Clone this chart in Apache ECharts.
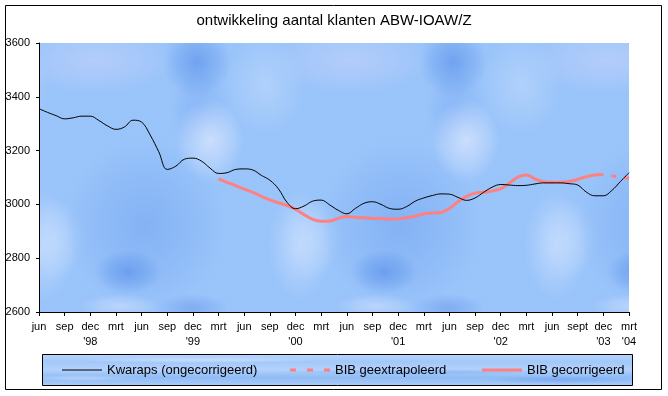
<!DOCTYPE html>
<html>
<head>
<meta charset="utf-8">
<script src="https://cdn.jsdelivr.net/npm/echarts@6/dist/echarts.min.js"></script>
<style>
html, body { margin: 0; padding: 0; background: #fff; }
#chart { width: 668px; height: 396px; }
</style>
</head>
<body>
<div id="chart"></div>
<script>
const FONT = 'Arial, "Liberation Sans", sans-serif';
const RED = '#ff8080';

// quarterly tick labels (every 3rd month) and year line under them
const tickLabels = ['jun', 'sep', 'dec', 'mrt', 'jun', 'sep', 'dec', 'mrt', 'jun', 'sep', 'dec', 'mrt',
    'jun', 'sep', 'dec', 'mrt', 'jun', 'sep', 'dec', 'mrt', 'jun', 'sept', 'dec', 'mrt'];
const yearLabels = ['', '', "'98", '', '', '', "'99", '', '', '', "'00", '', '', '', "'01", '', '', '', "'02", '', '', '', "'03", "'04"];

// monthly categories, jun 1998 .. mrt 2004
const monthNames = ['jan', 'feb', 'mrt', 'apr', 'mei', 'jun', 'jul', 'aug', 'sep', 'okt', 'nov', 'dec'];
const months = [];
for (let y = 1998, m = 5; months.length < 70; m++) {
    if (m === 12) { m = 0; y++; }
    months.push(monthNames[m] + ' ' + y);
}

const kwaraps = [3356, 3342, 3330, 3318, 3322, 3328, 3328, 3312, 3292, 3279, 3288, 3313,
    3306, 3258, 3196, 3130, 3142, 3168, 3172, 3161, 3135, 3115, 3118, 3130,
    3132, 3128, 3108, 3090, 3058, 3008, 2984, 2994, 3012, 3016, 2998, 2978,
    2965, 2985, 3004, 3010, 3000, 2985, 2982, 2992, 3012, 3024, 3033, 3039,
    3038, 3026, 3015, 3024, 3045, 3064, 3074, 3072, 3070, 3071, 3076, 3080,
    3080, 3080, 3077, 3072, 3046, 3032, 3032, 3052, 3085, 3118];

// BIB gecorrigeerd: mrt 2000 .. dec 2003
const bibStart = 21;
const bibCorrected = [3095, 3082, 3070, 3057, 3045, 3030, 3017, 3006, 2996, 2982, 2962, 2944,
    2937, 2938, 2948, 2955, 2952, 2950, 2948, 2947, 2946, 2946, 2950, 2956,
    2965, 2968, 2970, 2985, 3010, 3030, 3042, 3045, 3050, 3058, 3079, 3101,
    3109, 3095, 3084, 3082, 3082, 3085, 3093, 3103, 3109, 3111];

// BIB geextrapoleerd: dec 2003 .. mrt 2004
const extraStart = 66;
const bibExtrapolated = [3111, 3106, 3101, 3096];

function place(start, values) {
    const out = new Array(months.length).fill(null);
    values.forEach(function (v, i) { out[start + i] = v; });
    return out;
}

// blue "tissue" texture for plot area and legend box
function makeTexture() {
    const c = document.createElement('canvas');
    c.width = 668;
    c.height = 396;
    const ctx = c.getContext('2d');

    function blob(cx, cy, rx, ry, rgb, a) {
        ctx.save();
        ctx.translate(cx, cy);
        ctx.scale(rx, ry);
        const g = ctx.createRadialGradient(0, 0, 0, 0, 0, 1);
        g.addColorStop(0, 'rgba(' + rgb + ',' + a + ')');
        g.addColorStop(0.6, 'rgba(' + rgb + ',' + (a * 0.45) + ')');
        g.addColorStop(1, 'rgba(' + rgb + ',0)');
        ctx.fillStyle = g;
        ctx.beginPath();
        ctx.arc(0, 0, 1, 0, Math.PI * 2);
        ctx.fill();
        ctx.restore();
    }

    ctx.save();
    ctx.beginPath();
    ctx.rect(39, 43, 590, 269);
    ctx.clip();
    ctx.fillStyle = '#98c4fa';
    ctx.fillRect(39, 43, 590, 269);
    const blobs = [
        [95, 60, 80, 34, '196,210,250', 0.6],
        [265, 85, 40, 50, '196,222,252', 0.5],
        [145, 225, 80, 85, '104,156,238', 0.45],
        [200, 110, 30, 40, '104,156,240', 0.35],
        [197, 62, 34, 36, '88,144,234', 0.65],
        [210, 140, 34, 42, '224,234,255', 0.7],
        [55, 240, 30, 40, '200,222,252', 0.45],
        [300, 245, 32, 55, '208,228,255', 0.6],
        [128, 272, 34, 22, '84,140,232', 0.6],
        [120, 306, 40, 12, '216,230,255', 0.5],
        [192, 308, 36, 14, '98,150,234', 0.5]
    ];
    for (let k = -1; k <= 2; k++) {
        blobs.forEach(function (b) {
            blob(b[0] + k * 256, b[1], b[2], b[3], b[4], b[5]);
        });
    }
    ctx.restore();

    // legend box
    ctx.save();
    ctx.beginPath();
    ctx.rect(42, 354, 590, 31);
    ctx.clip();
    const lg = ctx.createLinearGradient(0, 354, 0, 385);
    lg.addColorStop(0, '#b8d6fc');
    lg.addColorStop(0.25, '#a0c8fa');
    lg.addColorStop(0.5, '#b2d2fc');
    lg.addColorStop(0.75, '#8ebcf4');
    lg.addColorStop(1, '#a6cafa');
    ctx.fillStyle = lg;
    ctx.fillRect(42, 354, 590, 31);
    blob(200, 360, 120, 3, '220,236,255', 0.6);
    blob(420, 372, 140, 3, '116,166,240', 0.5);
    blob(560, 380, 80, 4, '96,150,236', 0.5);
    blob(80, 378, 60, 3, '210,230,255', 0.5);
    ctx.restore();

    // fine dither like the original bitmap
    [[39, 43, 590, 269], [42, 354, 590, 31]].forEach(function (r) {
        const img = ctx.getImageData(r[0], r[1], r[2], r[3]);
        const d = img.data;
        for (let y = 0; y < r[3]; y++) {
            for (let x = 0; x < r[2]; x++) {
                const p = (y * r[2] + x) * 4;
                if ((x + y) % 2 === 0) {
                    d[p] = Math.min(255, d[p] + 7);
                    d[p + 1] = Math.max(0, d[p + 1] - 3);
                } else {
                    d[p] = Math.max(0, d[p] - 4);
                    d[p + 1] = Math.min(255, d[p + 1] + 3);
                }
            }
        }
        ctx.putImageData(img, r[0], r[1]);
    });
    return c;
}

const texture = makeTexture();
const chart = echarts.init(document.getElementById('chart'), null, {renderer: 'canvas'});

// legend samples drawn as plain strokes (no symbol)
const iconLine = 'path://M0,0h40v1h-40z';
const iconThick = 'path://M0,0h40v3h-40z';
const iconDash = 'path://M0,0h6v3h-6z M17,0h6v3h-6z M34,0h6v3h-6z';

function legendBox(name, icon, h, left) {
    return {
        data: [{name: name, icon: icon}],
        left: left,
        top: 370 - 7,
        padding: 0,
        itemWidth: 40,
        itemHeight: h,
        itemGap: 0,
        selectedMode: false,
        textStyle: {fontSize: 13, color: '#000', fontFamily: FONT, lineHeight: 14, height: 14},
        z: 10
    };
}

const option = {
    animation: false,
    backgroundColor: '#fff',
    title: {
        text: 'ontwikkeling aantal klanten ABW-IOAW/Z',
        left: 'center',
        top: 13,
        padding: 0,
        textStyle: {fontSize: 15, fontWeight: 'normal', color: '#000', fontFamily: FONT}
    },
    graphic: [
        {
            type: 'rect',
            shape: {x: 5.5, y: 5.5, width: 656, height: 384},
            style: {fill: 'none', stroke: '#000', lineWidth: 1},
            silent: true
        },
        {
            type: 'rect',
            shape: {x: 42.5, y: 354.5, width: 590, height: 31},
            style: {fill: {image: texture, repeat: 'no-repeat'}, stroke: '#000', lineWidth: 1},
            silent: true,
            z: 1
        }
    ],
    legend: [
        legendBox('Kwaraps (ongecorrigeerd)', iconLine, 1, 62),
        legendBox('BIB geextrapoleerd', iconDash, 3, 290),
        legendBox('BIB gecorrigeerd', iconThick, 3, 482)
    ],
    grid: {
        left: 39,
        right: 39,
        top: 43,
        bottom: 84,
        show: true,
        borderWidth: 0,
        backgroundColor: {image: texture, repeat: 'no-repeat'},
        outerBoundsMode: 'none'
    },
    xAxis: {
        type: 'category',
        boundaryGap: false,
        data: months,
        axisLine: {lineStyle: {color: '#000', width: 1}},
        axisTick: {show: true, interval: 2, length: 4, lineStyle: {color: '#000'}},
        axisLabel: {
            interval: 2,
            showMinLabel: true,
            showMaxLabel: true,
            hideOverlap: false,
            margin: 7,
            fontSize: 11,
            lineHeight: 15,
            color: '#000',
            fontFamily: FONT,
            formatter: function (value, index) {
                const k = Math.round(index / 3);
                return yearLabels[k] ? tickLabels[k] + '\n' + yearLabels[k] : tickLabels[k];
            }
        },
        splitLine: {show: false}
    },
    yAxis: {
        type: 'value',
        min: 2600,
        max: 3600,
        interval: 200,
        axisLine: {show: true, lineStyle: {color: '#000', width: 1}},
        axisTick: {show: true, length: 3, lineStyle: {color: '#000'}},
        axisLabel: {
            margin: 9,
            fontSize: 11,
            color: '#000',
            fontFamily: FONT,
            formatter: function (v) { return String(v); }
        },
        splitLine: {show: false}
    },
    series: [
        {
            name: 'Kwaraps (ongecorrigeerd)',
            type: 'line',
            data: kwaraps,
            smooth: 0.4,
            symbol: 'none',
            itemStyle: {color: '#000'},
            lineStyle: {color: '#000', width: 1},
            z: 3
        },
        {
            name: 'BIB geextrapoleerd',
            type: 'line',
            data: place(extraStart, bibExtrapolated),
            smooth: 0.3,
            symbol: 'none',
            itemStyle: {color: RED},
            lineStyle: {color: RED, width: 3, type: [5, 8], dashOffset: 5},
            z: 2
        },
        {
            name: 'BIB gecorrigeerd',
            type: 'line',
            data: place(bibStart, bibCorrected),
            smooth: 0.3,
            symbol: 'none',
            itemStyle: {color: RED},
            lineStyle: {color: RED, width: 3},
            z: 2
        }
    ]
};
chart.setOption(option);
</script>
</body>
</html>
